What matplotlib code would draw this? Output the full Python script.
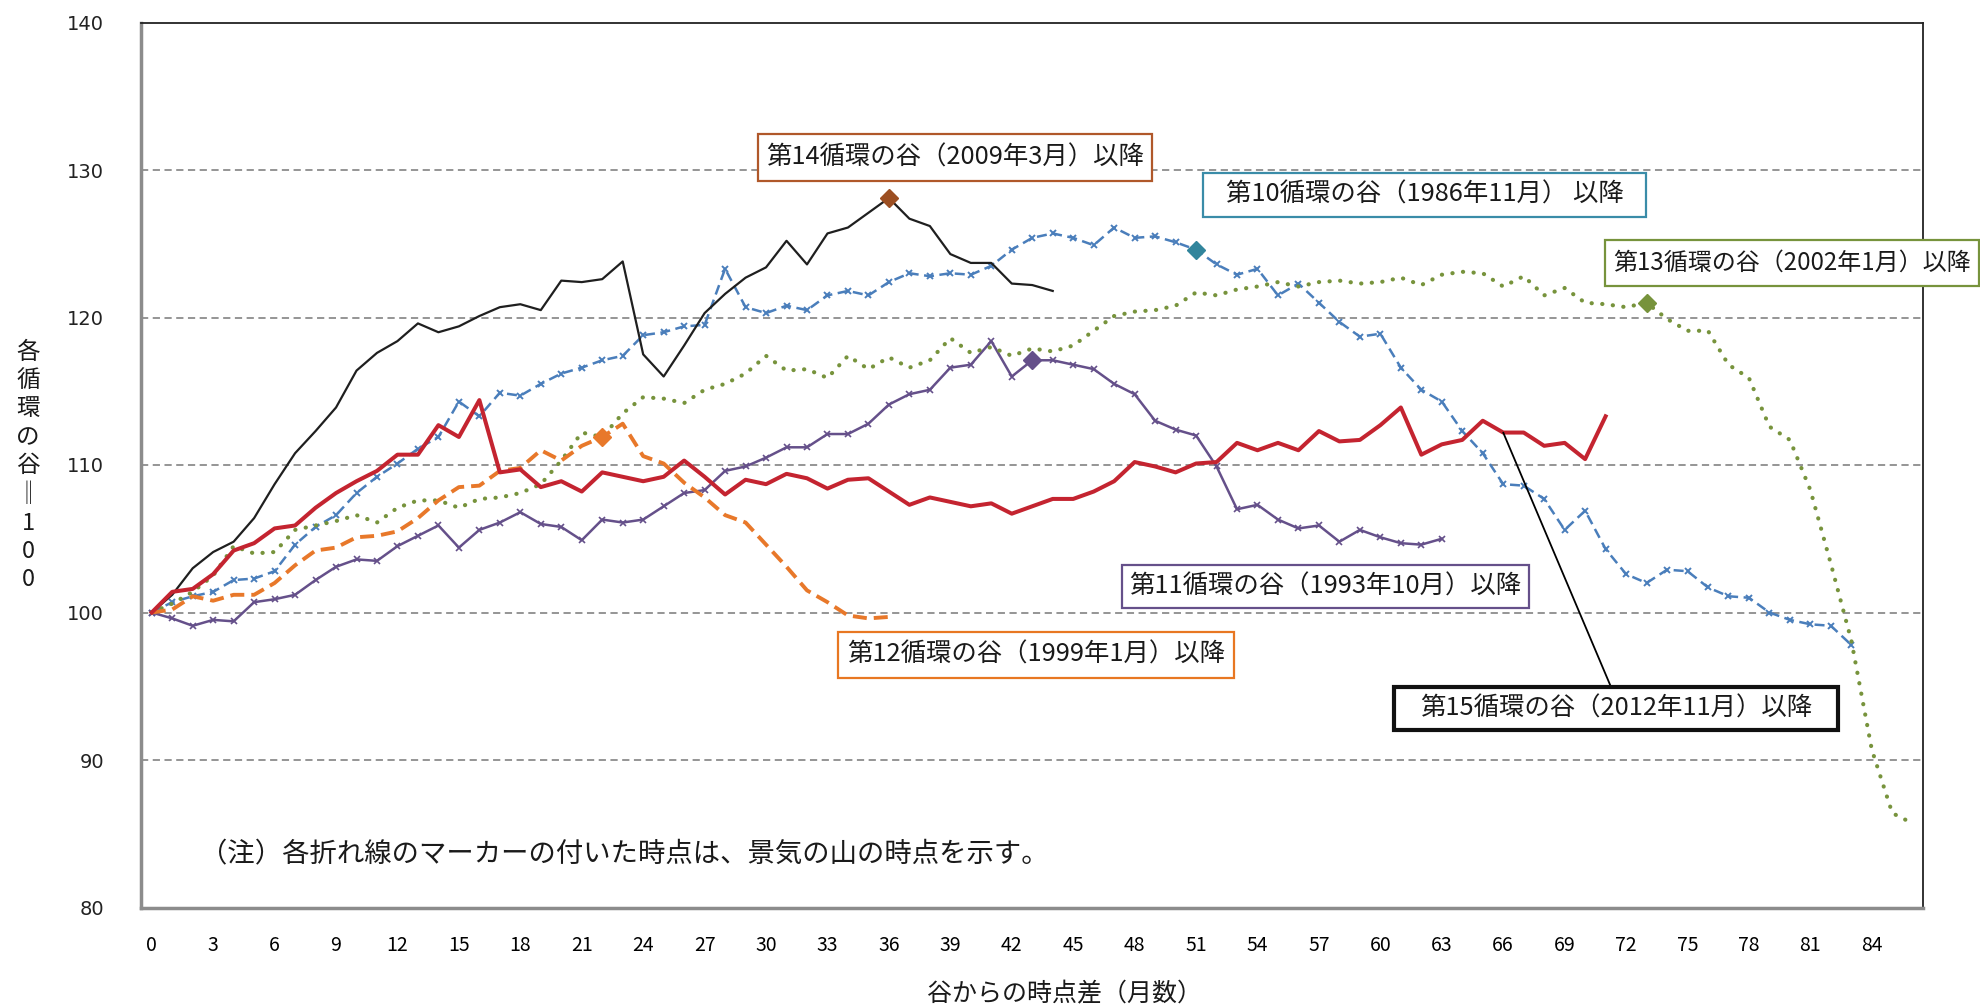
import matplotlib
matplotlib.use('Agg')
import matplotlib.pyplot as plt
from matplotlib.patches import Rectangle

plt.rcParams['font.family'] = ['Noto Sans CJK JP', 'DejaVu Sans']

# ---------------- data ----------------
# 第10循環の谷（1986年11月）以降
c10 = [100, 100.7, 101.1, 101.4, 102.2, 102.3, 102.8, 104.6, 105.8, 106.6,
       108.1, 109.2, 110.1, 111.1, 111.9, 114.3, 113.3, 114.9, 114.7, 115.5,
       116.2, 116.6, 117.1, 117.4, 118.8, 119.0, 119.4, 119.5, 123.3, 120.7,
       120.3, 120.8, 120.5, 121.5, 121.8, 121.5, 122.4, 123.0, 122.8, 123.0,
       122.9, 123.5, 124.6, 125.4, 125.7, 125.4, 124.9, 126.1, 125.4, 125.5,
       125.1, 124.6, 123.6, 122.9, 123.3, 121.5, 122.3, 121.0, 119.7, 118.7,
       118.9, 116.6, 115.1, 114.3, 112.3, 110.8, 108.7, 108.6, 107.7, 105.6,
       106.9, 104.3, 102.6, 102.0, 102.9, 102.8, 101.7, 101.1, 101.0, 100.0,
       99.5, 99.2, 99.1, 97.8]
# 第11循環の谷（1993年10月）以降
c11 = [100, 99.6, 99.1, 99.5, 99.4, 100.7, 100.9, 101.2, 102.2, 103.1,
       103.6, 103.5, 104.5, 105.2, 105.9, 104.4, 105.6, 106.1, 106.8, 106.0,
       105.8, 104.9, 106.3, 106.1, 106.3, 107.2, 108.1, 108.3, 109.6, 109.9,
       110.5, 111.2, 111.2, 112.1, 112.1, 112.8, 114.1, 114.8, 115.1, 116.6,
       116.8, 118.4, 116.0, 117.1, 117.1, 116.8, 116.5, 115.5, 114.8, 113.0,
       112.4, 112.0, 109.9, 107.0, 107.3, 106.3, 105.7, 105.9, 104.8, 105.6,
       105.1, 104.7, 104.6, 105.0]
# 第12循環の谷（1999年1月）以降
c12 = [100, 100.2, 101.1, 100.8, 101.2, 101.2, 102.0, 103.2, 104.2, 104.4,
       105.1, 105.2, 105.5, 106.4, 107.6, 108.5, 108.6, 109.6, 109.8, 111.0,
       110.3, 111.3, 111.9, 112.8, 110.6, 110.1, 108.8, 107.8, 106.6, 106.1,
       104.6, 103.1, 101.5, 100.7, 99.8, 99.6, 99.7]
# 第13循環の谷（2002年1月）以降
c13 = [100, 100.6, 101.4, 102.5, 104.5, 104.0, 104.1, 105.6, 105.9, 106.2,
       106.6, 106.1, 107.1, 107.6, 107.6, 107.1, 107.7, 107.8, 108.1, 108.7,
       110.3, 112.2, 111.9, 113.5, 114.6, 114.5, 114.2, 115.1, 115.5, 116.2,
       117.4, 116.4, 116.5, 115.9, 117.4, 116.5, 117.3, 116.6, 117.1, 118.6,
       117.6, 118.0, 117.4, 117.9, 117.7, 118.1, 119.1, 120.1, 120.4, 120.5,
       120.8, 121.7, 121.5, 121.9, 122.1, 122.4, 122.1, 122.4, 122.5, 122.3,
       122.4, 122.7, 122.2, 122.9, 123.1, 123.0, 122.1, 122.8, 121.5, 122.0,
       121.0, 120.9, 120.7, 121.0, 119.9, 119.1, 119.1, 116.8, 115.9, 112.6,
       111.7, 108.3, 103.3, 98.1, 90.7, 86.4, 85.7]
# 第14循環の谷（2009年3月）以降
c14 = [100, 101.2, 103.0, 104.1, 104.8, 106.4, 108.7, 110.8, 112.3, 113.9,
       116.4, 117.6, 118.4, 119.6, 119.0, 119.4, 120.1, 120.7, 120.9, 120.5,
       122.5, 122.4, 122.6, 123.8, 117.5, 116.0, 118.1, 120.3, 121.6, 122.7,
       123.4, 125.2, 123.6, 125.7, 126.1, 127.1, 128.1, 126.7, 126.2, 124.3,
       123.7, 123.7, 122.3, 122.2, 121.8]
# 第15循環の谷（2012年11月）以降
c15 = [100, 101.4, 101.6, 102.6, 104.2, 104.7, 105.7, 105.9, 107.1, 108.1,
       108.9, 109.6, 110.7, 110.7, 112.7, 111.9, 114.4, 109.5, 109.7, 108.5,
       108.9, 108.2, 109.5, 109.2, 108.9, 109.2, 110.3, 109.2, 108.0, 109.0,
       108.7, 109.4, 109.1, 108.4, 109.0, 109.1, 108.2, 107.3, 107.8, 107.5,
       107.2, 107.4, 106.7, 107.2, 107.7, 107.7, 108.2, 108.9, 110.2, 109.9,
       109.5, 110.1, 110.2, 111.5, 111.0, 111.5, 111.0, 112.3, 111.6, 111.7,
       112.7, 113.9, 110.7, 111.4, 111.7, 113.0, 112.2, 112.2, 111.3, 111.5,
       110.4, 113.3]

# peak months (景気の山)
peak10, peak11, peak12, peak13, peak14 = 51, 43, 22, 73, 36
leader_month15 = 66

xticks = list(range(0, 85, 3))
yticks = [80, 90, 100, 110, 120, 130, 140]

label10 = '第10循環の谷（1986年11月） 以降'
label11 = '第11循環の谷（1993年10月）以降'
label12 = '第12循環の谷（1999年1月）以降'
label13 = '第13循環の谷（2002年1月）以降'
label14 = '第14循環の谷（2009年3月）以降'
label15 = '第15循環の谷（2012年11月）以降'
note = '（注）各折れ線のマーカーの付いた時点は、景気の山の時点を示す。'
xlabel = '谷からの時点差（月数）'
ylabel = '各\n循\n環\nの\n谷\n‖\n1\n0\n0'

# ---------------- figure ----------------
W, H = 1981, 1008
fig = plt.figure(figsize=(W / 100, H / 100), dpi=100)
L, R, T, B = 141.5, 1923, 22.5, 907.5
ax = fig.add_axes([L / W, 1 - B / H, (R - L) / W, (B - T) / H])

ax.set_xlim(-0.5, 86.5)
ax.set_ylim(80, 140)

for v in [90, 100, 110, 120, 130]:
    ax.axhline(v, color='#8c8c8c', lw=1.3, ls=(0, (4, 2.5)), zorder=1)

col10, col11, col12, col13, col14, col15 = '#4a7ebb', '#65508a', '#e8782a', '#77933c', '#1f1f1f', '#c42430'

x10 = list(range(len(c10)))
x11 = list(range(len(c11)))
x12 = list(range(len(c12)))
x13 = list(range(len(c13)))
x14 = list(range(len(c14)))
x15 = list(range(len(c15)))

ax.plot(x10, c10, color=col10, lw=1.8, ls=(0, (4, 2.2)), marker='x', ms=4, mew=1.4, zorder=3)
ax.plot(x11, c11, color=col11, lw=1.8, marker='x', ms=4, mew=1.2, zorder=3)
ax.plot(x13, c13, color=col13, lw=3.0, ls=(0, (0.05, 2.5)), dash_capstyle='round', zorder=3)
ax.plot(x12, c12, color=col12, lw=2.8, ls=(0, (3.6, 1.8)), zorder=4)
ax.plot(x14, c14, color=col14, lw=1.6, zorder=4)
ax.plot(x15, c15, color=col15, lw=2.9, zorder=5)

# peak diamonds
ax.plot([peak14], [c14[peak14]], marker='D', ms=9, color='#9c4f22', zorder=6, ls='none')
ax.plot([peak10], [c10[peak10]], marker='D', ms=9, color='#31859c', zorder=6, ls='none')
ax.plot([peak11], [c11[peak11]], marker='D', ms=9, color=col11, zorder=6, ls='none')
ax.plot([peak12], [c12[peak12]], marker='D', ms=9, color=col12, zorder=6, ls='none')
ax.plot([peak13], [c13[peak13]], marker='D', ms=9, color=col13, zorder=6, ls='none')

ax.set_xticks(xticks)
ax.set_xticklabels([str(t) for t in xticks], fontsize=14)
ax.set_yticks(yticks)
ax.set_yticklabels([str(t) for t in yticks], fontsize=14, family='DejaVu Sans', color='#222222')
ax.tick_params(axis='both', length=0)
ax.tick_params(axis='y', pad=27)
ax.tick_params(axis='x', pad=20)

for s in ['left', 'bottom']:
    ax.spines[s].set_color('#8c8c8c')
    ax.spines[s].set_linewidth(2.5)
for s in ['top', 'right']:
    ax.spines[s].set_color('#222222')
    ax.spines[s].set_linewidth(1.3)

# leader line for 第15循環
ax.annotate('', xy=(leader_month15, c15[leader_month15]), xytext=(1611, H - 687),
            textcoords='figure pixels',
            arrowprops=dict(arrowstyle='-', color='black', lw=1.3, shrinkA=0, shrinkB=0),
            zorder=6)


def box(x0, y0, x1, y1, text, ec, lw=1.6, fs=18.3):
    fig.patches.append(Rectangle((x0 / W, 1 - y1 / H), (x1 - x0) / W, (y1 - y0) / H,
                                 transform=fig.transFigure, facecolor='white',
                                 edgecolor=ec, lw=lw, zorder=10))
    fig.text((x0 + x1) / 2 / W, 1 - (y0 + y1) / 2 / H, text, ha='center', va='center',
             fontsize=fs, color='#1a1a1a', zorder=11)


box(758, 134, 1152, 181, label14, '#b0582a')
box(1203, 173, 1646, 217, label10, '#3a8ca8')
box(1605, 240, 1979, 286, label13, '#77933c', fs=17.3)
box(1122, 565, 1529, 608, label11, '#65508a')
box(838, 632, 1234, 678, label12, '#e87722')
box(1394, 687, 1838, 730, label15, '#111111', lw=3)

fig.text(200 / W, 1 - 855 / H, note, ha='left', va='center', fontsize=19.7, color='#1a1a1a')
fig.text(1065 / W, 1 - 994 / H, xlabel, ha='center', va='center', fontsize=18, color='#1a1a1a')
fig.text(28 / W, 1 - 466 / H, ylabel, ha='center', va='center', fontsize=17,
         linespacing=1.3, color='#1a1a1a')

fig.savefig('out.png', dpi=100)
